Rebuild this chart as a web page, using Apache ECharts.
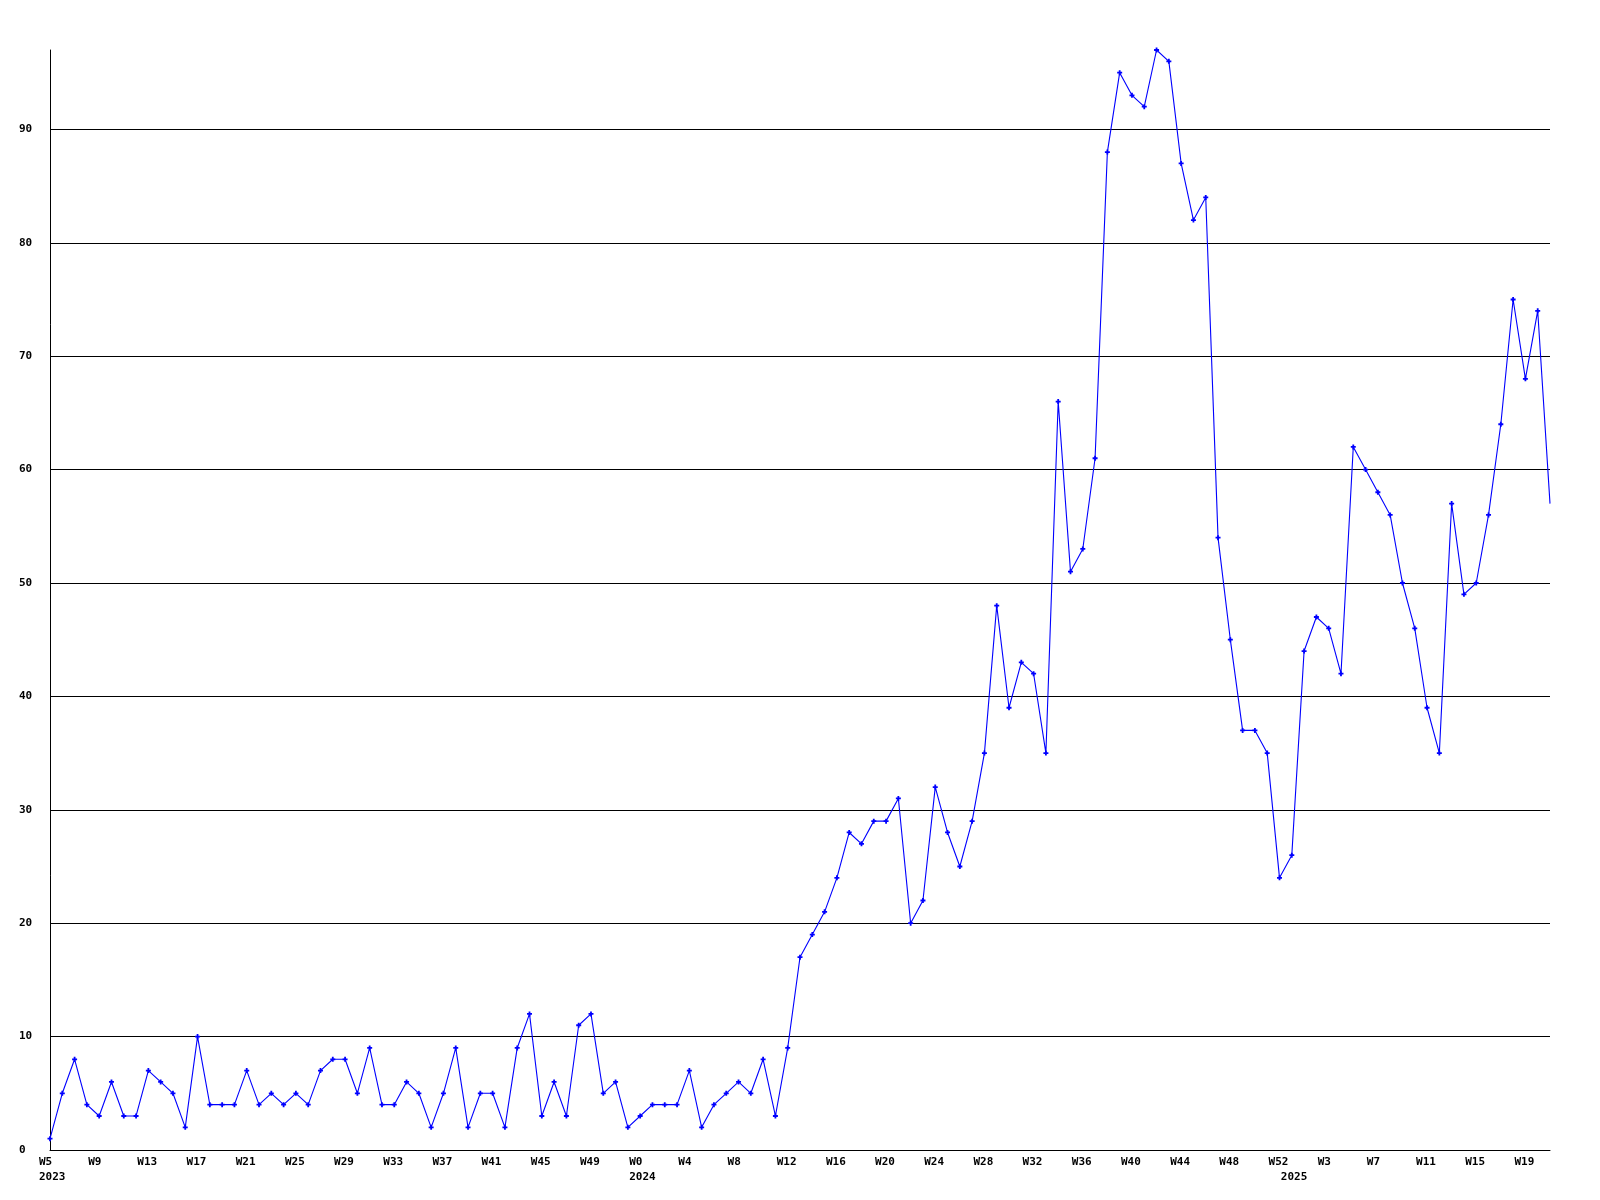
<!DOCTYPE html>
<html>
<head>
<meta charset="utf-8">
<script src="https://cdn.jsdelivr.net/npm/echarts@6/dist/echarts.min.js"></script>
<style>
html,body{margin:0;padding:0;background:#fff;}
#chart{width:1600px;height:1200px;}
</style>
</head>
<body>
<div id="chart"></div>
<script>
// Categories: year-week
const categories = [
  '2023-W5','2023-W6','2023-W7','2023-W8','2023-W9','2023-W10','2023-W11','2023-W12','2023-W13','2023-W14',
  '2023-W15','2023-W16','2023-W17','2023-W18','2023-W19','2023-W20','2023-W21','2023-W22','2023-W23','2023-W24',
  '2023-W25','2023-W26','2023-W27','2023-W28','2023-W29','2023-W30','2023-W31','2023-W32','2023-W33','2023-W34',
  '2023-W35','2023-W36','2023-W37','2023-W38','2023-W39','2023-W40','2023-W41','2023-W42','2023-W43','2023-W44',
  '2023-W45','2023-W46','2023-W47','2023-W48','2023-W49','2023-W50','2023-W51','2023-W52',
  '2024-W0','2024-W1','2024-W2','2024-W3','2024-W4','2024-W5','2024-W6','2024-W7','2024-W8','2024-W9',
  '2024-W10','2024-W11','2024-W12','2024-W13','2024-W14','2024-W15','2024-W16','2024-W17','2024-W18','2024-W19',
  '2024-W20','2024-W21','2024-W22','2024-W23','2024-W24','2024-W25','2024-W26','2024-W27','2024-W28','2024-W29',
  '2024-W30','2024-W31','2024-W32','2024-W33','2024-W34','2024-W35','2024-W36','2024-W37','2024-W38','2024-W39',
  '2024-W40','2024-W41','2024-W42','2024-W43','2024-W44','2024-W45','2024-W46','2024-W47','2024-W48','2024-W49',
  '2024-W50','2024-W51','2024-W52',
  '2025-W0','2025-W1','2025-W2','2025-W3','2025-W4','2025-W5','2025-W6','2025-W7','2025-W8','2025-W9',
  '2025-W10','2025-W11','2025-W12','2025-W13','2025-W14','2025-W15','2025-W16','2025-W17','2025-W18','2025-W19',
  '2025-W20','2025-W21'
];

// Weekly values
const values = [
  1,5,8,4,3,6,3,3,7,6, 5,2,10,4,4,4,7,4,5,4, 5,4,7,8,8,5,9,4,4,6, 5,2,
  5,9,2,5,5,2,9,12,3,6, 3,11,12,5,6,2,3,4,4,4, 7,2,4,5,6,5,8,3,9,
  17,19,21,24,28,27,29,29,31,20, 22,32,28,25,29,
  35,48,39,43,42,35,66,51,53,61, 88,95,93,92,97,96,87,82,84,54, 45,
  37,37,35,24,26,44,47,46,42,62, 60,58,56,50,46,39,35,57,49,50, 56,64,75,68,74,57
];

// Y-axis ticks
const yMin = 0;
const yMax = 97;
const yStep = 10;
const labelEvery = 4;

const FONT = "'DejaVu Sans Mono', 'Liberation Mono', monospace";

function yearOf(i) { return categories[i].split('-')[0]; }
function weekOf(i) { return categories[i].split('-')[1]; }
function isYearStart(i) { return i === 0 || yearOf(i) !== yearOf(i - 1); }

const seriesData = values.map((v, i) => i === values.length - 1 ? { value: v, symbol: 'none' } : v);

const chart = echarts.init(document.getElementById('chart'), null, { renderer: 'canvas' });
chart.setOption({
  animation: false,
  backgroundColor: '#ffffff',
  grid: [
    { left: 50, right: 50, top: 50, bottom: 50, containLabel: false },
    { left: 39, right: 61, top: 50, bottom: 50, containLabel: false }
  ],
  xAxis: [
    {
      gridIndex: 0,
      type: 'category',
      data: categories,
      boundaryGap: false,
      axisLine: { show: true, lineStyle: { color: '#000', width: 1 } },
      axisTick: { show: false },
      axisLabel: { show: false },
      splitLine: { show: false }
    },
    {
      gridIndex: 1,
      type: 'category',
      data: categories,
      boundaryGap: false,
      axisLine: { show: false },
      axisTick: { show: false },
      splitLine: { show: false },
      axisLabel: {
        show: true,
        interval: (i) => i % labelEvery === 0 || isYearStart(i),
        formatter: (val, i) => {
          const wk = (i % labelEvery === 0) ? weekOf(i) : '';
          return isYearStart(i) ? wk + '\n' + yearOf(i) : wk;
        },
        align: 'left',
        margin: 5,
        color: '#000',
        fontFamily: FONT,
        fontSize: 11,
        fontWeight: 'bold',
        lineHeight: 15,
        hideOverlap: false
      }
    }
  ],
  yAxis: [
    {
      gridIndex: 0,
      type: 'value',
      min: yMin,
      max: yMax,
      interval: yStep,
      axisLine: { show: true, lineStyle: { color: '#000', width: 1 } },
      axisTick: { show: false },
      splitLine: { show: true, showMaxLine: false, lineStyle: { color: '#000', width: 1 } },
      axisLabel: {
        show: true,
        showMaxLabel: false,
        align: 'left',
        margin: 31,
        color: '#000',
        fontFamily: FONT,
        fontSize: 11,
        fontWeight: 'bold'
      }
    },
    {
      gridIndex: 1,
      type: 'value',
      show: false,
      min: yMin,
      max: yMax
    }
  ],
  series: [
    {
      type: 'line',
      xAxisIndex: 0,
      yAxisIndex: 0,
      data: seriesData,
      symbol: 'path://M1.6,0H3.4V1.6H5V3.4H3.4V5H1.6V3.4H0V1.6H1.6Z',
      symbolSize: 5,
      showAllSymbol: true,
      clip: false,
      lineStyle: { color: '#0000ff', width: 1.1 },
      itemStyle: { color: '#0000ff' },
      emphasis: { disabled: true }
    }
  ]
});
</script>
</body>
</html>
